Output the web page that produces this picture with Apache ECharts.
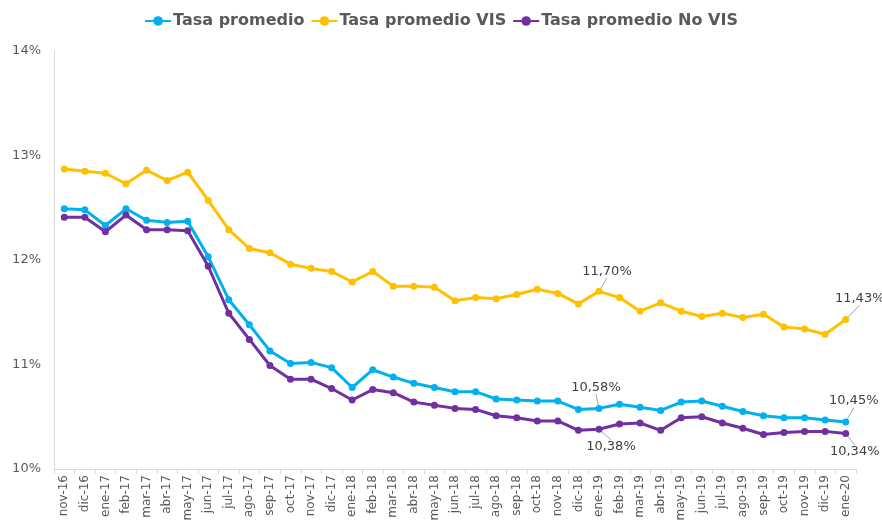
<!DOCTYPE html>
<html>
<head>
<meta charset="utf-8">
<script src="https://cdn.jsdelivr.net/npm/echarts@6/dist/echarts.min.js"></script>
<style>html,body{margin:0;padding:0;background:#fff}#c{width:882px;height:530px}</style>
</head>
<body>
<div id="c"></div>
<script>
const categories = ['nov-16','dic-16','ene-17','feb-17','mar-17','abr-17','may-17','jun-17','jul-17','ago-17','sep-17','oct-17','nov-17','dic-17','ene-18','feb-18','mar-18','abr-18','may-18','jun-18','jul-18','ago-18','sep-18','oct-18','nov-18','dic-18','ene-19','feb-19','mar-19','abr-19','may-19','jun-19','jul-19','ago-19','sep-19','oct-19','nov-19','dic-19','ene-20'];
const tasaPromedio = [12.49,12.48,12.33,12.49,12.38,12.36,12.37,12.03,11.62,11.38,11.13,11.01,11.02,10.97,10.78,10.95,10.88,10.82,10.78,10.74,10.74,10.67,10.66,10.65,10.65,10.57,10.58,10.62,10.59,10.56,10.64,10.65,10.60,10.55,10.51,10.49,10.49,10.47,10.45];
const tasaVIS = [12.87,12.85,12.83,12.73,12.86,12.76,12.84,12.57,12.29,12.11,12.07,11.96,11.92,11.89,11.79,11.89,11.75,11.75,11.74,11.61,11.64,11.63,11.67,11.72,11.68,11.58,11.70,11.64,11.51,11.59,11.51,11.46,11.49,11.45,11.48,11.36,11.34,11.29,11.43];
const tasaNoVIS = [12.41,12.41,12.27,12.43,12.29,12.29,12.28,11.94,11.49,11.24,10.99,10.86,10.86,10.77,10.66,10.76,10.73,10.64,10.61,10.58,10.57,10.51,10.49,10.46,10.46,10.37,10.38,10.43,10.44,10.37,10.49,10.50,10.44,10.39,10.33,10.35,10.36,10.36,10.34];
const yTicks = [10, 11, 12, 13, 14];
const seriesNames = ['Tasa promedio', 'Tasa promedio VIS', 'Tasa promedio No VIS'];
const colors = ['#00B0F0', '#FFC000', '#7030A0'];
// labelled points per series (data indices)
const labelled = {0: [26, 38], 1: [26, 38], 2: [26, 38]};
// label offsets (dx, dy) relative to point
const labelOffsets = {
  '1-26': [8, -20], '0-26': [-3, -21], '2-26': [12, 17],
  '1-38': [14, -21], '0-38': [8, -21], '2-38': [9, 18]
};
const fmt = v => v.toFixed(2).replace('.', ',') + '%';

function buildData(arr, si) {
  return arr.map((v, i) => {
    if (labelled[si].indexOf(i) >= 0) {
      return {value: v, label: {show: true, position: 'inside'}};
    }
    return v;
  });
}

const chart = echarts.init(document.getElementById('c'));
const font = '"DejaVu Sans", sans-serif';
chart.setOption({
  animation: false,
  textStyle: {fontFamily: font},
  legend: {
    top: 8, left: 'center',
    itemGap: 6, itemWidth: 26, itemHeight: 12,
    textStyle: {color: '#595959', fontSize: 16, fontWeight: 'bold', fontFamily: font, padding: [0, 0, 0, -3]},
    data: seriesNames
  },
  grid: {left: 54, right: 26, top: 51, bottom: 61, containLabel: false},
  xAxis: {
    type: 'category', data: categories, boundaryGap: true,
    axisLine: {lineStyle: {color: '#D9D9D9', width: 1}},
    axisTick: {show: true, alignWithLabel: false, length: 5, lineStyle: {color: '#D9D9D9'}},
    axisLabel: {rotate: 90, interval: 0, color: '#595959', fontSize: 12, margin: 6, fontFamily: font}
  },
  yAxis: {
    type: 'value', min: yTicks[0], max: yTicks[yTicks.length-1], interval: 1,
    axisLine: {show: true, lineStyle: {color: '#D9D9D9', width: 1}},
    axisTick: {show: false},
    splitLine: {show: false},
    axisLabel: {color: '#595959', fontSize: 13, margin: 13, formatter: v => v + '%', fontFamily: font}
  },
  series: [tasaPromedio, tasaVIS, tasaNoVIS].map((arr, si) => ({
    name: seriesNames[si], type: 'line', data: buildData(arr, si),
    color: colors[si],
    symbol: 'circle', symbolSize: 7,
    lineStyle: {width: 3, color: colors[si]},
    itemStyle: {color: colors[si]},
    label: {show: false, formatter: p => fmt(p.value), color: '#404040', fontSize: 13, fontFamily: font},
    labelLine: {show: true, lineStyle: {color: '#A6A6A6', width: 1}},
    labelLayout: function (p) {
      const o = labelOffsets[si + '-' + p.dataIndex];
      if (!o) return {};
      return {dx: o[0], dy: o[1]};
    },
    z: si === 1 ? 2 : (si === 0 ? 3 : 4)
  }))
});
</script>
</body>
</html>
